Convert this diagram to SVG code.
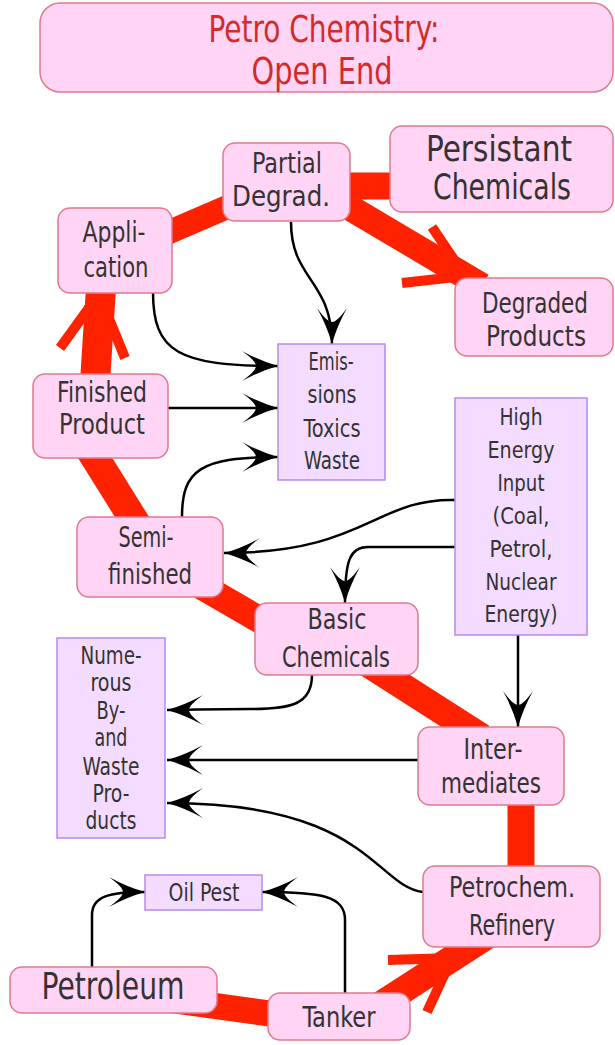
<svg xmlns="http://www.w3.org/2000/svg" width="615" height="1045" viewBox="0 0 615 1045">
  <style>
    .node rect { fill: #ffd4f4; stroke: #e2798c; stroke-width: 1.5; }
    .box rect { fill: #f3dcff; stroke: #b58af0; stroke-width: 1.5; }
    text { font-family: "DejaVu Sans Condensed", "DejaVu Sans", sans-serif; font-stretch: condensed; fill: #333333; text-anchor: middle; dominant-baseline: central; }
    .t29 { font-size: 29px; }
    .t24 { font-size: 24px; }
    .t23 { font-size: 23px; }
    .title text { fill: #d42a2a; font-size: 38px; }
    .flow { fill: none; stroke: #ff2200; stroke-linecap: butt; }
    .barb { fill: none; stroke: #ff2200; stroke-width: 10; stroke-linecap: butt; }
    .link { fill: none; stroke: #000000; stroke-width: 2.5; marker-end: url(#head); }
  </style>
  <defs>
    <marker id="head" markerUnits="userSpaceOnUse" markerWidth="40" markerHeight="34" viewBox="-38 -17 40 34" refX="0" refY="0" orient="auto">
      <path d="M0,0 Q-18,-5 -36,-15 Q-22,-5 -22,0 Q-22,5 -36,15 Q-18,5 0,0 Z" fill="#000000"/>
    </marker>
  </defs>

  <!-- thick material-flow bands -->
  <g id="flows">
    <path class="flow" stroke-width="26" d="M150,997 L310,1019"/>
    <path class="flow" stroke-width="27" d="M366,1014 L490,934"/>
    <path class="barb" d="M388,960 L452,958 L427,1012"/>
    <path class="flow" stroke-width="27" d="M521,872 L521,800"/>
    <path class="flow" stroke-width="27" d="M482,737 L368,664"/>
    <path class="flow" stroke-width="27" d="M272,627 L198,584"/>
    <path class="flow" stroke-width="29" d="M137,525 L84,440"/>
    <path class="flow" stroke-width="30" d="M95,382 L101,288"/>
    <path class="barb" d="M60,348 L99,294 L125,358"/>
    <path class="flow" stroke-width="24" d="M160,236 L232,205"/>
    <path class="flow" stroke-width="27" d="M345,186 L395,186"/>
    <path class="flow" stroke-width="26" d="M342,203 L482,286"/>
    <path class="barb" d="M432,227 L465,276 L402,283"/>
  </g>

  <!-- thin connectors -->
  <g id="connectors">
    <path class="link" d="M291,222 C291,280 332,280 332,344"/>
    <path class="link" d="M153,292 C153,352 178,366 278,366"/>
    <path class="link" d="M168,408 L278,408"/>
    <path class="link" d="M182,517 C182,470 200,457 278,457"/>
    <path class="link" d="M455,500 C375,498 365,553 224,553"/>
    <path class="link" d="M455,547 L368,547 C350,547 345,560 345,603"/>
    <path class="link" d="M518,635 L518,727"/>
    <path class="link" d="M312,675 C312,705 290,709 250,709 C210,709 190,710 167,710"/>
    <path class="link" d="M418,760 L167,760"/>
    <path class="link" d="M423,892 C375,886 368,803 167,803"/>
    <path class="link" d="M92,967 L92,915 C92,896 110,892 145,892"/>
    <path class="link" d="M345,993 L345,920 C345,896 322,892 262,892"/>
  </g>

  <g id="title" class="node title">
    <rect x="40" y="3" width="573" height="89" rx="20"/>
    <text x="324" y="29" textLength="231" lengthAdjust="spacingAndGlyphs">Petro Chemistry:</text>
    <text x="322" y="71" textLength="141" lengthAdjust="spacingAndGlyphs">Open End</text>
  </g>

  <g id="partial" class="node">
    <rect x="223" y="143" width="127" height="78" rx="12"/>
    <text class="t29" x="287" y="163" textLength="70" lengthAdjust="spacingAndGlyphs">Partial</text>
    <text class="t29" x="281" y="196" textLength="98" lengthAdjust="spacingAndGlyphs">Degrad.</text>
  </g>

  <g id="persistant" class="node">
    <rect x="390" y="126" width="223" height="86" rx="12"/>
    <text x="499" y="148" font-size="36" textLength="146" lengthAdjust="spacingAndGlyphs">Persistant</text>
    <text x="502" y="186" font-size="36" textLength="138" lengthAdjust="spacingAndGlyphs">Chemicals</text>
  </g>

  <g id="application" class="node">
    <rect x="58" y="208" width="114" height="85" rx="12"/>
    <text class="t29" x="114" y="232" textLength="63" lengthAdjust="spacingAndGlyphs">Appli-</text>
    <text class="t29" x="116" y="267" textLength="65" lengthAdjust="spacingAndGlyphs">cation</text>
  </g>

  <g id="degraded" class="node">
    <rect x="455" y="278" width="158" height="78" rx="12"/>
    <text class="t29" x="535" y="303" textLength="106" lengthAdjust="spacingAndGlyphs">Degraded</text>
    <text class="t29" x="536" y="336" textLength="100" lengthAdjust="spacingAndGlyphs">Products</text>
  </g>

  <g id="emissions" class="box">
    <rect x="278" y="344" width="107" height="136"/>
    <text class="t24" x="331" y="362" textLength="45" lengthAdjust="spacingAndGlyphs">Emis-</text>
    <text class="t24" x="332" y="395" textLength="49" lengthAdjust="spacingAndGlyphs">sions</text>
    <text class="t24" x="332" y="429" textLength="57" lengthAdjust="spacingAndGlyphs">Toxics</text>
    <text class="t24" x="332" y="461" textLength="56" lengthAdjust="spacingAndGlyphs">Waste</text>
  </g>

  <g id="finished" class="node">
    <rect x="33" y="374" width="135" height="84" rx="12"/>
    <text class="t29" x="102" y="392" textLength="90" lengthAdjust="spacingAndGlyphs">Finished</text>
    <text class="t29" x="102" y="424" textLength="86" lengthAdjust="spacingAndGlyphs">Product</text>
  </g>

  <g id="energy" class="box">
    <rect x="455" y="398" width="132" height="237"/>
    <text class="t23" x="521" y="417" textLength="43" lengthAdjust="spacingAndGlyphs">High</text>
    <text class="t23" x="521" y="450" textLength="67" lengthAdjust="spacingAndGlyphs">Energy</text>
    <text class="t23" x="521" y="483" textLength="47" lengthAdjust="spacingAndGlyphs">Input</text>
    <text class="t23" x="521" y="516" textLength="57" lengthAdjust="spacingAndGlyphs">(Coal,</text>
    <text class="t23" x="521" y="549" textLength="63" lengthAdjust="spacingAndGlyphs">Petrol,</text>
    <text class="t23" x="521" y="582" textLength="71" lengthAdjust="spacingAndGlyphs">Nuclear</text>
    <text class="t23" x="521" y="614" textLength="73" lengthAdjust="spacingAndGlyphs">Energy)</text>
  </g>

  <g id="semifinished" class="node">
    <rect x="77" y="517" width="146" height="80" rx="12"/>
    <text class="t29" x="146" y="537" textLength="55" lengthAdjust="spacingAndGlyphs">Semi-</text>
    <text class="t29" x="150" y="574" textLength="84" lengthAdjust="spacingAndGlyphs">finished</text>
  </g>

  <g id="basic" class="node">
    <rect x="255" y="603" width="163" height="72" rx="12"/>
    <text class="t29" x="337" y="619" textLength="59" lengthAdjust="spacingAndGlyphs">Basic</text>
    <text class="t29" x="336" y="657" textLength="108" lengthAdjust="spacingAndGlyphs">Chemicals</text>
  </g>

  <g id="byproducts" class="box">
    <rect x="57" y="638" width="108" height="200"/>
    <text class="t24" x="111" y="656" textLength="61" lengthAdjust="spacingAndGlyphs">Nume-</text>
    <text class="t24" x="111" y="683" textLength="41" lengthAdjust="spacingAndGlyphs">rous</text>
    <text class="t24" x="111" y="711" textLength="29" lengthAdjust="spacingAndGlyphs">By-</text>
    <text class="t24" x="111" y="738" textLength="33" lengthAdjust="spacingAndGlyphs">and</text>
    <text class="t24" x="111" y="767" textLength="57" lengthAdjust="spacingAndGlyphs">Waste</text>
    <text class="t24" x="111" y="794" textLength="37" lengthAdjust="spacingAndGlyphs">Pro-</text>
    <text class="t24" x="111" y="821" textLength="51" lengthAdjust="spacingAndGlyphs">ducts</text>
  </g>

  <g id="intermediates" class="node">
    <rect x="418" y="727" width="146" height="78" rx="12"/>
    <text class="t29" x="493" y="749" textLength="59" lengthAdjust="spacingAndGlyphs">Inter-</text>
    <text class="t29" x="491" y="783" textLength="100" lengthAdjust="spacingAndGlyphs">mediates</text>
  </g>

  <g id="refinery" class="node">
    <rect x="423" y="866" width="177" height="81" rx="12"/>
    <text class="t29" x="512" y="887" textLength="126" lengthAdjust="spacingAndGlyphs">Petrochem.</text>
    <text class="t29" x="512" y="925" textLength="86" lengthAdjust="spacingAndGlyphs">Refinery</text>
  </g>

  <g id="oilpest" class="box">
    <rect x="145" y="875" width="117" height="35"/>
    <text x="204" y="892" font-size="25" textLength="71" lengthAdjust="spacingAndGlyphs">Oil Pest</text>
  </g>

  <g id="petroleum" class="node">
    <rect x="10" y="967" width="207" height="46" rx="12"/>
    <text x="113" y="986" font-size="37" textLength="143" lengthAdjust="spacingAndGlyphs">Petroleum</text>
  </g>

  <g id="tanker" class="node">
    <rect x="268" y="993" width="142" height="47" rx="12"/>
    <text class="t29" x="339" y="1017" textLength="73" lengthAdjust="spacingAndGlyphs">Tanker</text>
  </g>
</svg>
